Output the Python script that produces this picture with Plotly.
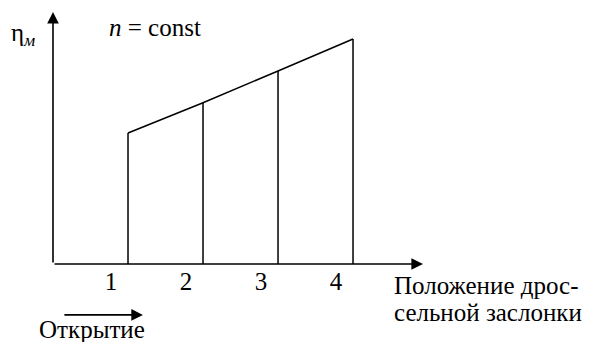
import plotly.graph_objects as go

# data
positions = [1, 2, 3, 4]
tick_labels = ["1", "2", "3", "4"]
eta_values = [0.52, 0.64, 0.766, 0.893]

x_max = 4.933
y_max = 1.0

FONT = "Liberation Serif, serif"
FS = 25

# vertical lines
vx, vy = [], []
for p, v in zip(positions, eta_values):
    vx += [p, p, None]
    vy += [0, v, None]

fig = go.Figure()
fig.add_trace(go.Scatter(x=vx, y=vy, mode="lines",
                         line=dict(color="black", width=1.5),
                         hoverinfo="skip", showlegend=False, cliponaxis=False))
fig.add_trace(go.Scatter(x=positions, y=eta_values, mode="lines",
                         line=dict(color="black", width=1.5),
                         hoverinfo="skip", showlegend=False, cliponaxis=False))

arrow_style = dict(showarrow=True, arrowhead=2, arrowsize=1.45, arrowwidth=1.6,
                   arrowcolor="black", text="")


def tf():
    return dict(family=FONT, size=FS, color="black")


annotations = [
    # y axis arrow
    dict(x=0, y=y_max, ax=0, ay=0, xref="x", yref="y", axref="x", ayref="y", **arrow_style),
    # x axis arrow
    dict(x=x_max, y=0, ax=0, ay=0, xref="x", yref="y", axref="x", ayref="y", **arrow_style),
    # opening arrow
    dict(x=0.243, y=-0.202, ax=-80, ay=0, xref="paper", yref="paper", **arrow_style),
    dict(x=0.105, y=-0.258, xref="paper", yref="paper", showarrow=False,
         text="Открытие", font=tf(), xanchor="center", yanchor="middle"),
    dict(x=0.915, y=-0.085, xref="paper", yref="paper", showarrow=False,
         text="Положение дрос-", font=tf(), xanchor="left", yanchor="middle"),
    dict(x=0.915, y=-0.192, xref="paper", yref="paper", showarrow=False,
         text="сельной заслонки", font=tf(), xanchor="left", yanchor="middle"),
    dict(x=-0.081, y=0.91, xref="paper", yref="paper", showarrow=False,
         text="η<sub><i>м</i></sub>", font=tf(), xanchor="center", yanchor="middle"),
    dict(x=0.146, y=0.937, xref="paper", yref="paper", showarrow=False,
         text="<i>n</i> = const", font=tf(), xanchor="left", yanchor="middle"),
]

# the page has an 8px body margin, so the figure is 8px smaller than the window
fig.update_layout(
    width=584, height=334,
    margin=dict(l=45, r=169, t=4, b=78),
    paper_bgcolor="white", plot_bgcolor="white",
    font=dict(family=FONT, color="black"),
    xaxis=dict(range=[0, x_max], showgrid=False, zeroline=False, showline=False,
               tickmode="array", tickvals=positions, ticktext=tick_labels,
               ticks="", ticklabelshift=-17, ticklabelstandoff=0,
               tickfont=tf(), fixedrange=True),
    yaxis=dict(range=[0, y_max], showgrid=False, zeroline=False, showline=False,
               showticklabels=False, ticks="", fixedrange=True),
    annotations=annotations,
    showlegend=False,
)

fig.write_html("out.html")
